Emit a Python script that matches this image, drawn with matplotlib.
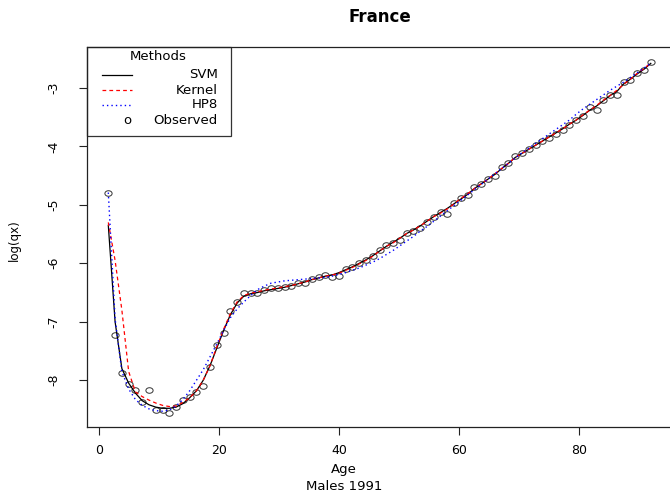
import numpy as np
import matplotlib
matplotlib.use("Agg")
import matplotlib.pyplot as plt
from matplotlib.path import Path
from matplotlib.transforms import Affine2D
from matplotlib.patches import Rectangle

plt.rcParams['font.family'] = ['DejaVu Sans']
plt.rcParams['axes.unicode_minus'] = False

# ages 0..80, males 1991 (log mortality rates)
ages = np.arange(0, 81)

observed = [-4.79, -7.22, -7.87, -8.07, -8.17, -8.37, -8.17, -8.51, -8.51, -8.56,
            -8.45, -8.34, -8.28, -8.20, -8.10, -7.77, -7.40, -7.19, -6.82, -6.66,
            -6.51, -6.51, -6.50, -6.46, -6.43, -6.43, -6.40, -6.39, -6.34, -6.33,
            -6.26, -6.24, -6.20, -6.23, -6.22, -6.10, -6.07, -6.00, -5.95, -5.88,
            -5.77, -5.69, -5.66, -5.60, -5.48, -5.45, -5.39, -5.29, -5.20, -5.13,
            -5.16, -4.97, -4.88, -4.83, -4.69, -4.65, -4.55, -4.50, -4.36, -4.29,
            -4.17, -4.12, -4.05, -3.98, -3.91, -3.85, -3.78, -3.72, -3.64, -3.55,
            -3.48, -3.32, -3.38, -3.21, -3.12, -3.12, -2.90, -2.86, -2.74, -2.69,
            -2.56]

svm = [-5.35, -7.00, -7.80, -8.05, -8.22, -8.35, -8.42, -8.46, -8.48, -8.48,
       -8.46, -8.40, -8.30, -8.18, -8.00, -7.75, -7.45, -7.15, -6.88, -6.68,
       -6.56, -6.52, -6.50, -6.47, -6.45, -6.43, -6.41, -6.38, -6.35, -6.32,
       -6.28, -6.25, -6.22, -6.20, -6.16, -6.11, -6.06, -6.00, -5.94, -5.87,
       -5.79, -5.71, -5.64, -5.57, -5.49, -5.43, -5.36, -5.28, -5.20, -5.13,
       -5.06, -4.98, -4.90, -4.82, -4.72, -4.64, -4.56, -4.48, -4.38, -4.29,
       -4.19, -4.12, -4.05, -3.98, -3.91, -3.84, -3.77, -3.70, -3.62, -3.55,
       -3.47, -3.38, -3.31, -3.22, -3.13, -3.06, -2.93, -2.85, -2.76, -2.68,
       -2.58]

kernel = [-5.30, -5.95, -6.80, -7.85, -8.20, -8.28, -8.34, -8.39, -8.43, -8.45,
          -8.44, -8.38, -8.30, -8.18, -8.00, -7.75, -7.43, -7.13, -6.86, -6.66,
          -6.55, -6.51, -6.49, -6.46, -6.44, -6.42, -6.40, -6.38, -6.35, -6.32,
          -6.28, -6.25, -6.22, -6.20, -6.17, -6.12, -6.07, -6.01, -5.95, -5.88,
          -5.79, -5.71, -5.65, -5.57, -5.49, -5.43, -5.36, -5.28, -5.20, -5.14,
          -5.07, -4.98, -4.89, -4.81, -4.72, -4.64, -4.56, -4.47, -4.38, -4.29,
          -4.19, -4.12, -4.05, -3.98, -3.91, -3.84, -3.77, -3.70, -3.62, -3.55,
          -3.46, -3.38, -3.30, -3.21, -3.13, -3.04, -2.94, -2.85, -2.75, -2.67,
          -2.57]

hp8 = [-4.79, -6.95, -7.85, -8.15, -8.33, -8.43, -8.49, -8.52, -8.53, -8.51,
       -8.44, -8.33, -8.18, -8.00, -7.82, -7.60, -7.38, -7.15, -6.93, -6.78,
       -6.66, -6.55, -6.45, -6.39, -6.34, -6.32, -6.30, -6.29, -6.28, -6.27,
       -6.26, -6.25, -6.24, -6.22, -6.19, -6.16, -6.12, -6.08, -6.03, -5.98,
       -5.92, -5.85, -5.78, -5.70, -5.62, -5.54, -5.45, -5.37, -5.28, -5.19,
       -5.10, -5.01, -4.92, -4.83, -4.74, -4.65, -4.56, -4.47, -4.38, -4.29,
       -4.20, -4.11, -4.03, -3.95, -3.87, -3.79, -3.71, -3.63, -3.55, -3.45,
       -3.36, -3.28, -3.20, -3.12, -3.04, -2.97, -2.90, -2.82, -2.74, -2.66,
       -2.58]

xticks = [0, 20, 40, 60, 80]
yticks = [-8, -7, -6, -5, -4, -3]

# the points do not sit on the tick scale 1:1 in the original, so map them
xpos = 1.5 + 1.13 * ages

W, H = 670, 501
fig = plt.figure(figsize=(W / 100, H / 100), dpi=100)
ax_l, ax_r, ax_t, ax_b = 86.7, 673.0, 47.0, 427.0
ax = fig.add_axes([ax_l / W, 1 - ax_b / H, (ax_r - ax_l) / W, (ax_b - ax_t) / H])

# slightly wide ellipse, like the stretched circles of the picture
ring = Path.unit_circle().transformed(Affine2D().scale(1.3, 1.0))

ax.plot(xpos, observed, linestyle='none', marker=ring, markersize=5.2,
        markerfacecolor='none', markeredgecolor='#333333', markeredgewidth=0.7)
ax.plot(xpos, svm, color='black', lw=0.9)
ax.plot(xpos, kernel, color='red', lw=0.9, dashes=(3, 2.5))
ax.plot(xpos, hp8, color='blue', lw=1.0, dashes=(1, 2.2))

ax.set_xlim(-2.1, 95.6)
ax.set_ylim(-8.80, -2.30)
ax.set_xticks(xticks)
ax.set_yticks(yticks)
ax.tick_params(direction='out', length=6, width=0.8, labelsize=9, color='#222222')
ax.tick_params(axis='x', pad=6)
ax.tick_params(axis='y', labelrotation=90, pad=13)
for t in ax.get_yticklabels():
    t.set_va('center')
for s in ax.spines.values():
    s.set_linewidth(0.9)
    s.set_color('#222222')

ax.set_title('France', fontsize=12, fontweight='bold', pad=18)
fig.text(344 / W, 1 - 469 / H, 'Age', ha='center', va='center', fontsize=9.5)
fig.text(344 / W, 1 - 487 / H, 'Males 1991', ha='center', va='center', fontsize=9.5)
fig.text(14 / W, 1 - 240 / H, 'log(qx)', rotation=90, ha='center', va='center', fontsize=8.5)


def px(x, y):
    # pixel position in the picture -> axes fraction
    return (x - ax_l) / (ax_r - ax_l), (ax_b - y) / (ax_b - ax_t)


# legend drawn by hand, R style
x0, y0 = px(86.7, 136)
x1, y1 = px(230.7, 47)
ax.add_patch(Rectangle((x0, y0), x1 - x0, y1 - y0, transform=ax.transAxes,
                       fill=False, edgecolor='#333333', lw=0.9, clip_on=False))
ax.text(*px(158, 57), 'Methods', transform=ax.transAxes, ha='center', va='center', fontsize=9.5)

labels = ['SVM', 'Kernel', 'HP8']
styles = [dict(color='black', lw=0.9),
          dict(color='red', lw=0.9, dashes=(3, 2.5)),
          dict(color='blue', lw=1.0, dashes=(1, 2.2))]
rows = [75, 90, 105]
for lab, st, yy in zip(labels, styles, rows):
    xa, ya = px(102, yy)
    xb, _ = px(132, yy)
    ax.plot([xa, xb], [ya, ya], transform=ax.transAxes, clip_on=False, **st)
    ax.text(*px(218, yy), lab, transform=ax.transAxes, ha='right', va='center', fontsize=9.5)
ax.text(*px(127, 120), 'o', transform=ax.transAxes, ha='center', va='center', fontsize=9.5)
ax.text(*px(218, 120), 'Observed', transform=ax.transAxes, ha='right', va='center', fontsize=9.5)

fig.savefig('out.png', dpi=100)
